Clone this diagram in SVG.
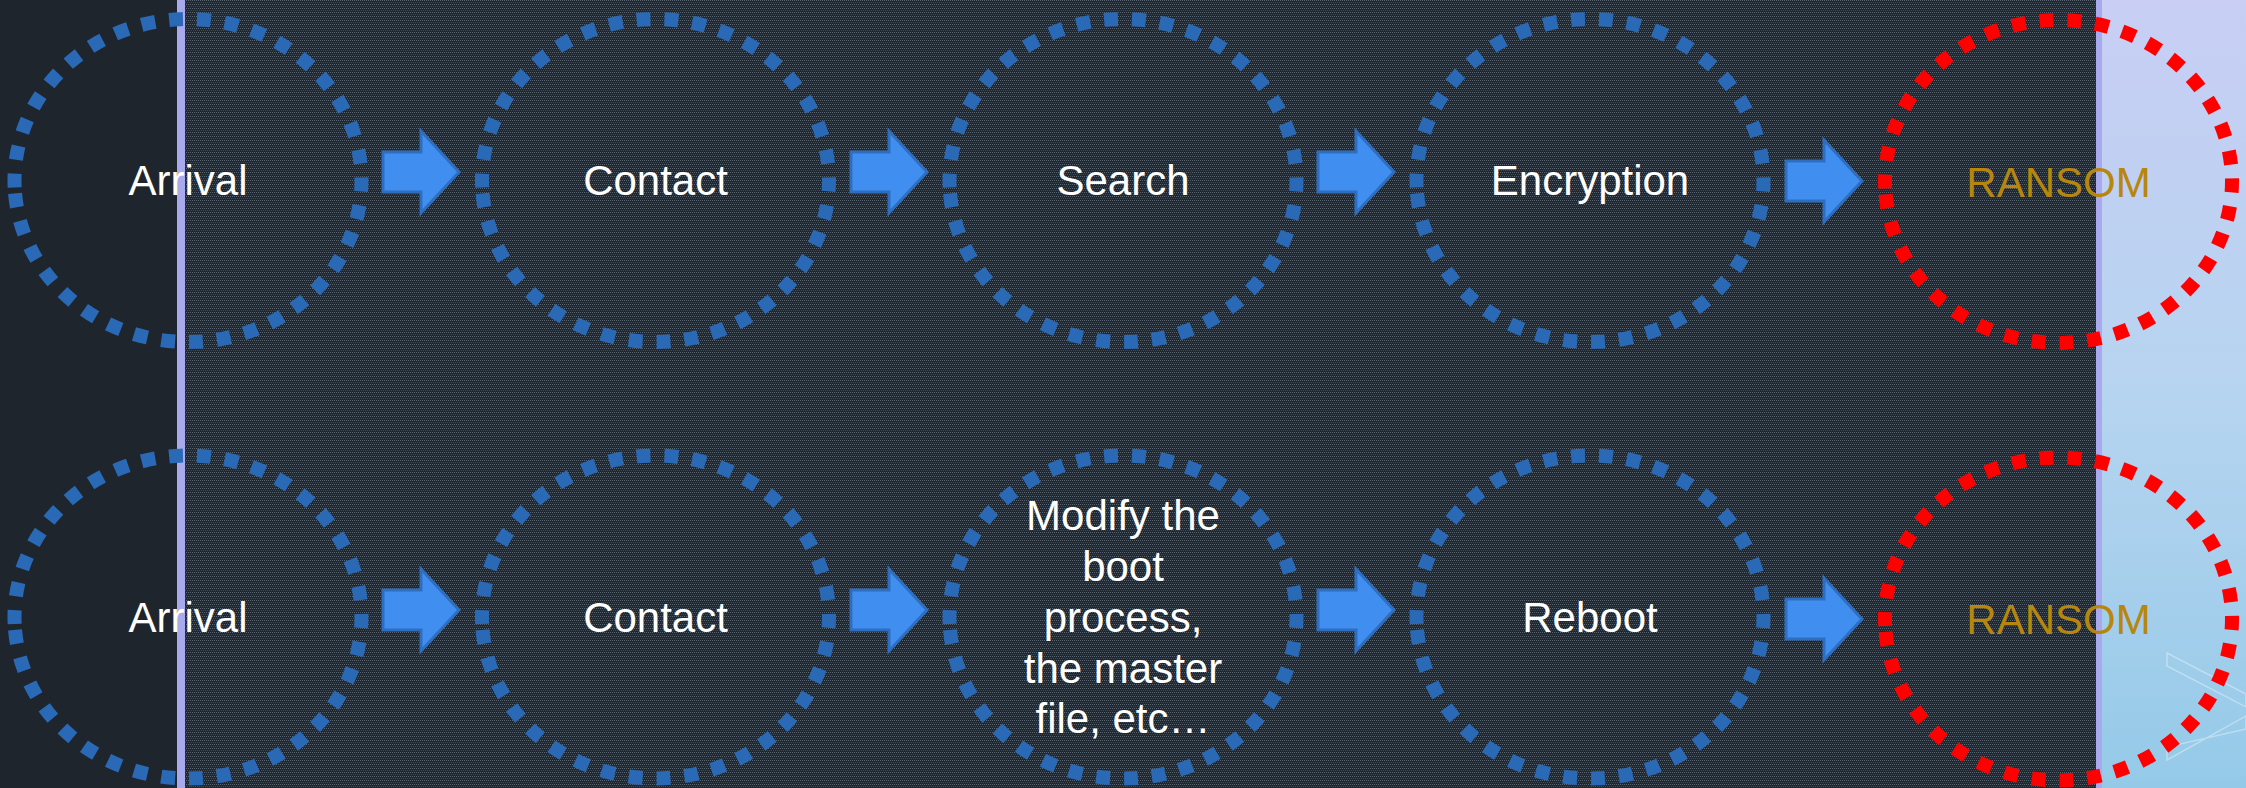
<svg xmlns="http://www.w3.org/2000/svg" width="2246" height="788" viewBox="0 0 2246 788">
  <style>
    .lbl { font-family: "Liberation Sans", Arial, sans-serif; font-size: 42px; fill: #ffffff; text-anchor: middle; }
    .ransom { fill: #b8860b; }
    .ring { fill: none; stroke-width: 14; stroke-dasharray: 14 14; }
    .blue { stroke: #2a69b6; }
    .red { stroke: #ff0000; }
    .arrow { fill: #3f8ef0; stroke: #2e6ec0; stroke-width: 3; stroke-linejoin: miter; }
  </style>
  <defs>
    <pattern id="tex" width="4" height="4" patternUnits="userSpaceOnUse">
      <rect width="4" height="4" fill="#20272e"/>
      <rect x="0" y="0" width="1" height="1" fill="#5a6773"/>
      <rect x="2" y="0" width="1" height="1" fill="#5a6773"/>
      <rect x="1" y="2" width="1" height="1" fill="#3e4a56"/>
      <rect x="3" y="2" width="1" height="1" fill="#3e4a56"/>
    </pattern>
    <linearGradient id="sky" x1="0" y1="0" x2="0" y2="1">
      <stop offset="0" stop-color="#c8cef4"/>
      <stop offset="0.5" stop-color="#b6d4f0"/>
      <stop offset="1" stop-color="#94cae8"/>
    </linearGradient>
  </defs>

  <!-- background -->
  <g id="background">
    <rect x="0" y="0" width="2246" height="788" fill="#1f252c"/>
    <rect x="185" y="0" width="1911" height="788" fill="url(#tex)"/>
    <rect x="2102" y="0" width="144" height="788" fill="url(#sky)"/>
    <g fill="none" stroke="#ffffff" stroke-opacity="0.35" stroke-width="1.5">
      <polygon points="2167,653 2246,694 2246,707 2167,666"/>
      <polygon points="2167,760 2246,716 2246,729 2167,747"/>
    </g>
    <rect x="177" y="0" width="8" height="788" fill="#a9aaee"/>
    <rect x="2096" y="0" width="6" height="788" fill="#a9aaee"/>
  </g>

  <!-- connectors -->
  <g id="connectors">
    <polygon class="arrow" points="383,152 421,152 421,131 459,172 421,213 421,192 383,192"/>
    <polygon class="arrow" points="851,152 889,152 889,131 927,172 889,213 889,192 851,192"/>
    <polygon class="arrow" points="1318,152 1356,152 1356,131 1394,172 1356,213 1356,192 1318,192"/>
    <polygon class="arrow" points="1786,161 1824,161 1824,140 1862,181 1824,222 1824,201 1786,201"/>

    <polygon class="arrow" points="383,590 421,590 421,569 459,610 421,651 421,630 383,630"/>
    <polygon class="arrow" points="851,590 889,590 889,569 927,610 889,651 889,630 851,630"/>
    <polygon class="arrow" points="1318,590 1356,590 1356,569 1394,610 1356,651 1356,630 1318,630"/>
    <polygon class="arrow" points="1786,599 1824,599 1824,578 1862,619 1824,660 1824,639 1786,639"/>
  </g>

  <!-- row 1 -->
  <g id="r1-arrival">
    <path class="ring blue" pathLength="1056" d="M14.66,187.5 A173.5,161.5 0 0 1 361.34,173.5 A173.5,161.5 0 0 1 14.66,187.5"/>
    <text class="lbl" x="188" y="195">Arrival</text>
  </g>
  <g id="r1-contact">
    <path class="ring blue" pathLength="1056" d="M482.16,187.5 A173.5,161.5 0 0 1 828.84,173.5 A173.5,161.5 0 0 1 482.16,187.5"/>
    <text class="lbl" x="655.5" y="195">Contact</text>
  </g>
  <g id="r1-search">
    <path class="ring blue" pathLength="1056" d="M949.66,187.5 A173.5,161.5 0 0 1 1296.34,173.5 A173.5,161.5 0 0 1 949.66,187.5"/>
    <text class="lbl" x="1123" y="195">Search</text>
  </g>
  <g id="r1-encryption">
    <path class="ring blue" pathLength="1056" d="M1416.66,187.5 A173.5,161.5 0 0 1 1763.34,173.5 A173.5,161.5 0 0 1 1416.66,187.5"/>
    <text class="lbl" x="1590" y="195">Encryption</text>
  </g>
  <g id="r1-ransom">
    <path class="ring red" pathLength="1056" d="M1885.16,188.5 A173.5,161.5 0 0 1 2231.84,174.5 A173.5,161.5 0 0 1 1885.16,188.5"/>
    <text class="lbl ransom" x="2058.5" y="197">RANSOM</text>
  </g>

  <!-- row 2 -->
  <g id="r2-arrival">
    <path class="ring blue" pathLength="1056" d="M14.66,624 A173.5,161.5 0 0 1 361.34,610 A173.5,161.5 0 0 1 14.66,624"/>
    <text class="lbl" x="188" y="632">Arrival</text>
  </g>
  <g id="r2-contact">
    <path class="ring blue" pathLength="1056" d="M482.16,624 A173.5,161.5 0 0 1 828.84,610 A173.5,161.5 0 0 1 482.16,624"/>
    <text class="lbl" x="655.5" y="632">Contact</text>
  </g>
  <g id="r2-modify">
    <path class="ring blue" pathLength="1056" d="M949.66,624 A173.5,161.5 0 0 1 1296.34,610 A173.5,161.5 0 0 1 949.66,624"/>
    <text class="lbl" x="1123" y="530">Modify the</text>
    <text class="lbl" x="1123" y="581">boot</text>
    <text class="lbl" x="1123" y="632">process,</text>
    <text class="lbl" x="1123" y="683">the master</text>
    <text class="lbl" x="1123" y="733">file, etc…</text>
  </g>
  <g id="r2-reboot">
    <path class="ring blue" pathLength="1056" d="M1416.66,624 A173.5,161.5 0 0 1 1763.34,610 A173.5,161.5 0 0 1 1416.66,624"/>
    <text class="lbl" x="1590" y="632">Reboot</text>
  </g>
  <g id="r2-ransom">
    <path class="ring red" pathLength="1056" d="M1885.16,626 A173.5,161.5 0 0 1 2231.84,612 A173.5,161.5 0 0 1 1885.16,626"/>
    <text class="lbl ransom" x="2058.5" y="634">RANSOM</text>
  </g>
</svg>
